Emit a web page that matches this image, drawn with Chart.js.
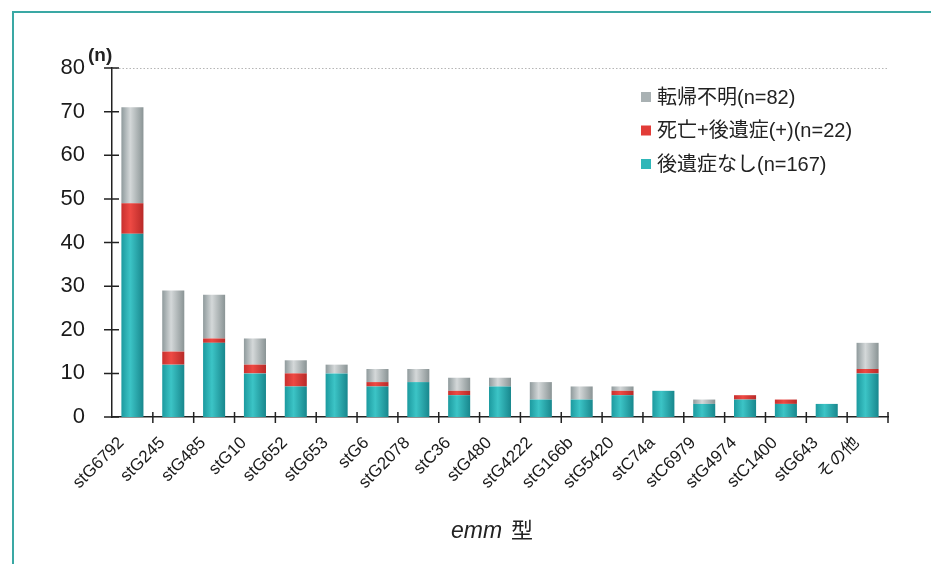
<!DOCTYPE html>
<html>
<head>
<meta charset="utf-8">
<script src="https://cdn.jsdelivr.net/npm/chart.js@4/dist/chart.umd.min.js"></script>
<style>
  html, body { margin: 0; padding: 0; background: #fff; }
  canvas { display: block; }
</style>
</head>
<body>
<canvas id="c" width="931" height="564"></canvas>
<script>
// emm types along the x axis
const categories = ['stG6792','stG245','stG485','stG10','stG652','stG653','stG6','stG2078','stC36','stG480',
  'stG4222','stG166b','stG5420','stC74a','stC6979','stG4974','stC1400','stG643','その他'];

// patient counts per outcome, stacked bottom to top
const noSequelae   = [42,12,17,10, 7,10, 7, 8, 5, 7, 4, 4, 5, 6, 3, 4, 3, 3,10];
const deathSequel  = [ 7, 3, 1, 2, 3, 0, 1, 0, 1, 0, 0, 0, 1, 0, 0, 1, 1, 0, 1];
const unknown      = [22,14,10, 6, 3, 2, 3, 3, 3, 2, 4, 3, 1, 0, 1, 0, 0, 0, 6];

const seriesNames = ['後遺症なし(n=167)', '死亡+後遺症(+)(n=22)', '転帰不明(n=82)'];
const yTicks = [0,10,20,30,40,50,60,70,80];

const BAR_FRACTION = 0.54;
const LATIN = '"Liberation Sans", Arial, "Noto Sans CJK JP", sans-serif';

// horizontal shading so each bar looks like a cylinder
function cylinder(stops) {
  return (c) => {
    const chart = c.chart;
    const xs = chart.scales && chart.scales.x;
    if (!xs || !chart.chartArea || c.dataIndex === undefined) return stops[1];
    const cx = xs.getPixelForValue(c.dataIndex);
    const w = xs.width / categories.length * BAR_FRACTION;
    const g = chart.ctx.createLinearGradient(cx - w / 2, 0, cx + w / 2, 0);
    g.addColorStop(0, stops[0]);
    g.addColorStop(0.4, stops[1]);
    g.addColorStop(1, stops[2]);
    return g;
  };
}

const palette = {
  teal: ['#1c9a9f', '#3cc4c6', '#18878d'],
  red:  ['#c8302e', '#ee4a44', '#b82a28'],
  grey: ['#8f9a9c', '#d4d8d9', '#8a9495']
};
const legendSwatch = { teal: '#2fb6b8', red: '#e23c38', grey: '#a9b1b3' };

// frame, dotted top gridline, crossing tick marks, unit, legend and axis title
const decorations = {
  id: 'decorations',
  beforeDraw(chart) {
    const ctx = chart.ctx;
    ctx.save();
    ctx.strokeStyle = '#3aa8a4';
    ctx.lineWidth = 2;
    ctx.beginPath();
    ctx.moveTo(13, 564);
    ctx.lineTo(13, 12);
    ctx.lineTo(931, 12);
    ctx.stroke();
    ctx.restore();
  },
  beforeDatasetsDraw(chart) {
    const ctx = chart.ctx;
    const ca = chart.chartArea;
    const py = Math.round(chart.scales.y.getPixelForValue(80)) + 0.5;
    ctx.save();
    ctx.strokeStyle = '#b5b5b5';
    ctx.lineWidth = 1;
    ctx.setLineDash([1.5, 2]);
    ctx.beginPath();
    ctx.moveTo(ca.left, py);
    ctx.lineTo(ca.right, py);
    ctx.stroke();
    ctx.restore();
  },
  afterDraw(chart) {
    const ctx = chart.ctx;
    const xs = chart.scales.x, ys = chart.scales.y;
    const ca = chart.chartArea;
    ctx.save();
    ctx.strokeStyle = '#222';
    ctx.lineWidth = 1.5;
    ctx.beginPath();
    yTicks.forEach(v => {
      const py = ys.getPixelForValue(v);
      ctx.moveTo(ca.left - 8, py);
      ctx.lineTo(ca.left + 7, py);
    });
    const step = xs.width / categories.length;
    for (let i = 1; i <= categories.length; i++) {
      const px = xs.getPixelForValue(i - 1) + step / 2;
      ctx.moveTo(px, ca.bottom - 5);
      ctx.lineTo(px, ca.bottom + 6);
    }
    ctx.stroke();

    // unit
    ctx.fillStyle = '#222';
    ctx.font = 'bold 19px ' + LATIN;
    ctx.textBaseline = 'alphabetic';
    ctx.textAlign = 'left';
    ctx.fillText('(n)', 88, 61);

    // legend, top series first
    const rows = [
      { name: seriesNames[2], col: legendSwatch.grey },
      { name: seriesNames[1], col: legendSwatch.red },
      { name: seriesNames[0], col: legendSwatch.teal }
    ];
    ctx.font = '20px ' + LATIN;
    ctx.textBaseline = 'middle';
    rows.forEach((r, i) => {
      const y = 97 + i * 33.5;
      ctx.fillStyle = r.col;
      ctx.fillRect(641, y - 5, 10, 10);
      ctx.fillStyle = '#222';
      ctx.fillText(r.name, 657, y + 1);
    });

    // axis title: italic gene name followed by the kanji
    ctx.textBaseline = 'alphabetic';
    ctx.font = 'italic 23px ' + LATIN;
    ctx.fillText('emm', 451, 538);
    const w = ctx.measureText('emm').width;
    ctx.font = '22px "Noto Sans CJK JP", sans-serif';
    ctx.fillText('型', 451 + w + 9, 538);
    ctx.restore();
  }
};

new Chart(document.getElementById('c'), {
  type: 'bar',
  data: {
    labels: categories,
    datasets: [
      { label: seriesNames[0], data: noSequelae,  backgroundColor: cylinder(palette.teal) },
      { label: seriesNames[1], data: deathSequel, backgroundColor: cylinder(palette.red) },
      { label: seriesNames[2], data: unknown,     backgroundColor: cylinder(palette.grey) }
    ]
  },
  options: {
    responsive: false,
    animation: false,
    devicePixelRatio: 1,
    layout: { padding: { top: 68, right: 43, bottom: 0, left: 0 } },
    datasets: { bar: { categoryPercentage: 1, barPercentage: BAR_FRACTION, borderWidth: 0 } },
    plugins: { legend: { display: false }, tooltip: { enabled: false } },
    scales: {
      x: {
        stacked: true,
        grid: { display: false, drawTicks: false },
        border: { display: true, color: '#222', width: 1.5 },
        ticks: {
          autoSkip: false, maxRotation: 45, minRotation: 45,
          padding: 16, labelOffset: -11,
          color: '#1a1a1a',
          font: { family: LATIN, size: 17 }
        },
        afterFit(s) { s.height = 147; }
      },
      y: {
        stacked: true,
        min: 0, max: 80,
        afterBuildTicks(s) { s.ticks = yTicks.map(v => ({ value: v })); },
        grid: { display: false, drawTicks: false },
        border: { display: true, color: '#222', width: 1.5 },
        ticks: {
          padding: 27,
          color: '#1a1a1a',
          font: { family: LATIN, size: 22 }
        },
        afterFit(s) { s.width = 112; }
      }
    }
  },
  plugins: [decorations]
});
</script>
</body>
</html>
